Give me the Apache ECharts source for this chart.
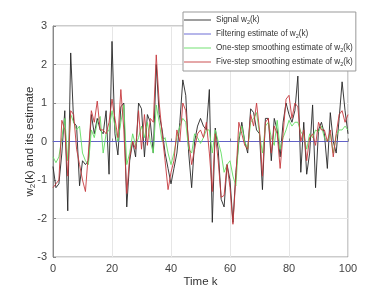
<!DOCTYPE html>
<html><head><meta charset="utf-8">
<script src="https://cdn.jsdelivr.net/npm/echarts@6/dist/echarts.min.js"></script>
<style>html,body{margin:0;padding:0;background:#fff}#c{width:384px;height:302px}</style>
</head><body><div id="c"></div>
<script>
var k = [];
for (var i = 0; i <= 100; i++) k.push(i);
var signal = [-0.65,-1.2,-1.1,-0.3,0.8,-1.8,2.3,0.5,0.4,-1.15,-0.5,-0.6,-0.5,0.7,0.2,0.6,0.3,0.2,0.8,-0.85,2.6,0.2,-0.35,0.9,1.0,-1.7,-0.5,0.0,-0.4,1.0,0.85,-0.4,0.7,0.5,-0.3,2.0,0.7,0.3,-0.3,-0.7,-1.1,-0.7,-0.3,0.5,1.6,1.2,-0.3,-1.2,0.0,0.4,0.6,0.4,0.3,1.35,-2.1,0.35,-0.2,-1.5,-1.7,-0.6,-1.0,-2.1,-0.8,0.0,0.5,0.0,-0.3,0.85,0.75,0.3,0.2,-1.25,0.6,0.6,-0.5,0.6,0.3,-0.4,0.5,1.0,0.7,0.5,0.8,1.7,-0.8,0.5,-0.85,-0.3,0.95,-1.2,0.3,0.5,0.2,-0.7,0.75,0.0,-0.3,0.6,1.55,0.8,0.2];
var filtering = [];
for (var j = 0; j <= 100; j++) filtering.push(0);
var oneStep = [-0.4,-0.55,-0.4,0.1,0.6,-0.5,0.7,0.5,0.3,0.4,-0.3,-0.5,-0.6,0.3,0.1,0.5,0.65,-0.3,0.2,0.3,0.8,0.4,0.0,0.5,0.95,-0.6,-0.3,0.2,-0.1,0.1,0.4,0.1,0.5,0.0,-0.3,0.95,0.5,0.0,0.1,-0.3,-0.6,-0.3,0.1,0.4,0.6,0.5,-0.2,-0.3,0.2,0.1,-0.05,0.1,0.3,0.3,-0.3,0.3,0.0,-0.3,-0.8,-0.6,-0.5,-0.9,-1.15,0.1,0.4,0.0,-0.2,0.5,0.6,0.75,0.2,-0.3,0.4,0.5,0.1,-0.1,0.55,-0.2,0.1,0.3,0.55,0.4,0.5,0.5,0.25,0.15,-0.2,0.2,0.1,0.3,0.25,0.4,0.1,0.0,0.2,-0.3,0.15,0.3,0.3,0.4,0.3];
var fiveStep = [-1.2,-1.1,-1.0,0.55,0.3,-0.9,0.8,0.7,-0.2,-0.6,-1.0,-1.3,-0.3,0.8,0.5,1.05,0.3,0.3,0.2,0.5,1.1,0.6,0.1,1.35,0.3,-1.35,-0.4,0.0,-0.2,0.8,-0.2,0.7,-0.1,0.6,0.5,2.25,1.0,0.2,-0.5,-1.25,-0.8,-0.5,0.3,0.0,1.0,0.8,0.0,-0.6,-0.2,0.2,0.3,0.1,0.5,-0.3,-1.3,0.2,-0.5,-1.45,-1.4,-0.6,-1.2,-2.15,-0.9,0.5,0.2,-0.1,-0.2,0.7,0.4,1.0,0.3,-0.9,0.5,0.6,-0.3,0.4,0.2,-0.7,0.2,1.1,1.2,0.6,1.0,0.9,0.0,0.3,-0.5,0.1,0.2,-0.1,0.5,0.3,0.3,0.0,0.3,-0.4,0.2,0.7,0.8,0.5,0.7];
var names = ['Signal w2(k)','Filtering estimate of w2(k)','One-step smoothing estimate of w2(k)','Five-step smoothing estimate of w2(k)'];
var colors = ['#262626','#5c5cd0','#62de62','#c63a3e'];
var xTicks = [0,20,40,60,80,100];
var yTicks = [-3,-2,-1,0,1,2,3];

function pairs(arr){ return arr.map(function(v,i){ return [k[i], v]; }); }
function mk(name, data, color, z){
  return {name:name, type:'line', data:pairs(data), symbol:'none', z:z,
    lineStyle:{color:color, width:0.9}, itemStyle:{color:color}, animation:false};
}
var FF = 'Liberation Sans, Arial, sans-serif';
var subRich = {
  t:{fontSize:8.2, color:'#333', fontFamily:FF, verticalAlign:'middle'},
  s:{fontSize:5.5, color:'#333', fontFamily:FF, padding:[4,0,0,0]}
};
var chart = echarts.init(document.getElementById('c'), null, {renderer:'canvas'});
chart.setOption({
  animation:false,
  backgroundColor:'#fff',
  grid:{left:53, right:36, top:26, bottom:45, show:true, borderColor:'#999', borderWidth:1},
  legend:{
    orient:'vertical', left:183, top:12, data:names,
    backgroundColor:'#fff', borderColor:'#999', borderWidth:1,
    padding:[4,3,4,1], itemWidth:27, itemHeight:8, itemGap:5,
    icon:'path://M0,4 L27,4 L27,4.9 L0,4.9 Z',
    formatter:function(n){ var p = n.split('w2'); return '{t|'+p[0]+'w}{s|2}{t|'+p[1]+'}'; },
    textStyle:{rich:subRich, fontSize:8.2, color:'#333'}
  },
  xAxis:{type:'value', min:0, max:100, interval:20,
    name:'Time k', nameLocation:'middle', nameGap:19, nameMoveOverlap:false,
    nameTextStyle:{fontSize:11.5, color:'#333', fontFamily:FF},
    axisLine:{lineStyle:{color:'#888'}}, axisTick:{inside:true, length:3, lineStyle:{color:'#888'}},
    axisLabel:{fontSize:11, color:'#444', margin:6, fontFamily:FF},
    splitLine:{show:true, lineStyle:{color:'#e6e6e6', width:1}}},
  yAxis:{type:'value', min:-3, max:3, interval:1,
    name:'{t|w}{s|2}{t|(k) and its estimate}', nameLocation:'middle', nameGap:16, nameRotate:90, nameMoveOverlap:false,
    nameTextStyle:{rich:{
      t:{fontSize:11.5, color:'#333', fontFamily:FF},
      s:{fontSize:8, color:'#333', fontFamily:FF, padding:[6,0,0,0]}}},
    axisLine:{show:true, lineStyle:{color:'#888'}}, axisTick:{show:true, inside:true, length:3, lineStyle:{color:'#888'}},
    axisLabel:{fontSize:11, color:'#444', margin:6, fontFamily:FF},
    splitLine:{show:true, lineStyle:{color:'#e6e6e6', width:1}}},
  series:[
    mk(names[0], signal, colors[0], 2),
    mk(names[1], filtering, colors[1], 3),
    mk(names[2], oneStep, colors[2], 4),
    mk(names[3], fiveStep, colors[3], 5)
  ]
});
</script></body></html>
